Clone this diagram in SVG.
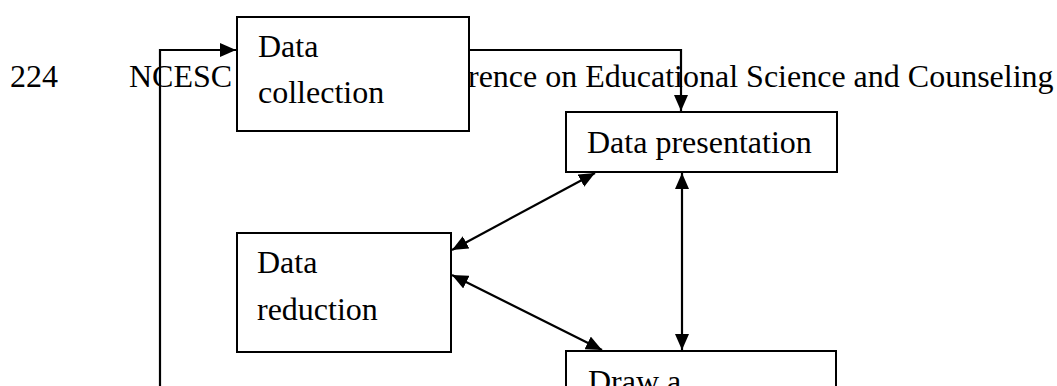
<svg xmlns="http://www.w3.org/2000/svg" width="1057" height="386" viewBox="0 0 1057 386">
  <style>
    .t { font-family: "Liberation Serif", "Times New Roman", serif; font-size: 32px; fill: #000; }
    .box { fill: #fff; stroke: #000; stroke-width: 2; }
    .ln { fill: none; stroke: #000; stroke-width: 2.2; }
  </style>
  <defs>
    <marker id="ah" viewBox="0 0 16 14" refX="16" refY="7" markerWidth="16" markerHeight="14" markerUnits="userSpaceOnUse" orient="auto-start-reverse">
      <path d="M0,0 L16,7 L0,14 Z" fill="#000"/>
    </marker>
  </defs>
  <rect width="1057" height="386" fill="#fff"/>
  <g id="header">
    <text class="t" x="10" y="87">224</text>
    <text class="t" x="129" y="87">NCESC</text>
    <text class="t" x="468" y="87">rence on Educational Science and Counseling</text>
  </g>
  <g id="data-collection">
    <rect class="box" x="237" y="17" width="232" height="114"/>
    <text class="t" x="258" y="57">Data</text>
    <text class="t" x="258" y="103">collection</text>
  </g>
  <g id="data-presentation">
    <rect class="box" x="566" y="112" width="271" height="60"/>
    <text class="t" x="587" y="153">Data presentation</text>
  </g>
  <g id="data-reduction">
    <rect class="box" x="237" y="233" width="214" height="119"/>
    <text class="t" x="257" y="273">Data</text>
    <text class="t" x="257" y="320">reduction</text>
  </g>
  <g id="draw-conclusion">
    <rect class="box" x="566" y="351" width="270" height="60"/>
    <text class="t" x="588" y="392">Draw a</text>
  </g>
  <g id="connectors">
    <polyline class="ln" points="160,400 160,50 236,50" marker-end="url(#ah)"/>
    <polyline class="ln" points="469,50 681,50 681,111" marker-end="url(#ah)"/>
    <line class="ln" x1="452" y1="250" x2="595" y2="173" marker-start="url(#ah)" marker-end="url(#ah)"/>
    <line class="ln" x1="452" y1="275" x2="602" y2="350" marker-start="url(#ah)" marker-end="url(#ah)"/>
    <line class="ln" x1="682" y1="173" x2="682" y2="350" marker-start="url(#ah)" marker-end="url(#ah)"/>
  </g>
</svg>
